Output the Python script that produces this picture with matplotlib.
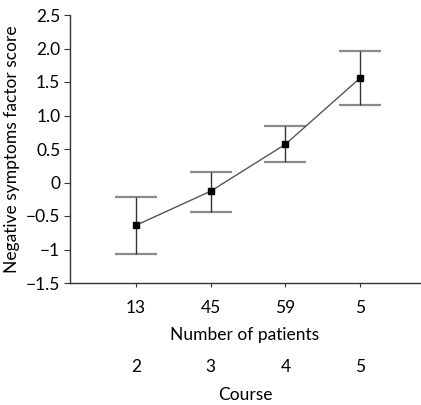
import numpy as np
import matplotlib as mpl
mpl.use('Agg')
import matplotlib.pyplot as plt
from matplotlib.transforms import blended_transform_factory

plt.rcParams['font.family'] = ['Lato', 'DejaVu Sans']
plt.rcParams['axes.unicode_minus'] = True

# data
patients = ['13', '45', '59', '5']
courses = ['2', '3', '4', '5']
means = [-0.64, -0.13, 0.57, 1.56]
upper = [-0.22, 0.16, 0.84, 1.96]
lower = [-1.06, -0.44, 0.31, 1.16]
yticks = [-1.5, -1, -0.5, 0, 0.5, 1.0, 1.5, 2.0, 2.5]
ytick_labels = ['\u22121.5', '\u22121', '\u22120.5', '0', '0.5', '1.0', '1.5', '2.0', '2.5']

x = np.arange(1, len(patients) + 1)
means = np.array(means)
yerr = [means - np.array(lower), np.array(upper) - means]

fig = plt.figure(figsize=(4.21, 4.05), dpi=100)
ax = fig.add_axes([70/421, 1 - 283/405, 350/421, 268/405])

# error bars: dark stems, grey caps
ax.errorbar(x, means, yerr=yerr, fmt='none', ecolor='#333333', elinewidth=1.0,
            capsize=0, zorder=2)
for xi, lo, hi in zip(x, lower, upper):
    ax.hlines([lo, hi], xi - 0.28, xi + 0.28, color='#8a8a8a', lw=1.6, zorder=1)
ax.plot(x, means, color='#555555', lw=1.0, zorder=3)
ax.plot(x, means, 's', color='black', ms=4.5, zorder=4)

ax.set_xlim(0.12, 4.8)
ax.set_ylim(-1.5, 2.5)
ax.set_yticks(yticks)
ax.set_yticklabels(ytick_labels, fontsize=12.5)
ax.set_xticks(x)
ax.set_xticklabels(patients, fontsize=12.5)
ax.tick_params(axis='x', length=3, pad=9, color='#333333')
ax.tick_params(axis='y', length=4, pad=3, color='#333333')
for s in ['top', 'right']:
    ax.spines[s].set_visible(False)
for s in ['left', 'bottom']:
    ax.spines[s].set_linewidth(1.0)
    ax.spines[s].set_color('#333333')

ax.set_ylabel('Negative symptoms factor score', fontsize=12.5, labelpad=4)

trans = blended_transform_factory(ax.transData, fig.transFigure)
fig.text(245/421, 1 - 335/405, 'Number of patients', fontsize=12.5,
         ha='center', va='center')
for xi, c in zip(x, courses):
    ax.text(xi, 1 - 367/405, c, fontsize=12.5, ha='center', va='center', transform=trans)
fig.text(245/421, 1 - 395/405, 'Course', fontsize=12.5,
         ha='center', va='center')

fig.savefig('out.png', dpi=100)
